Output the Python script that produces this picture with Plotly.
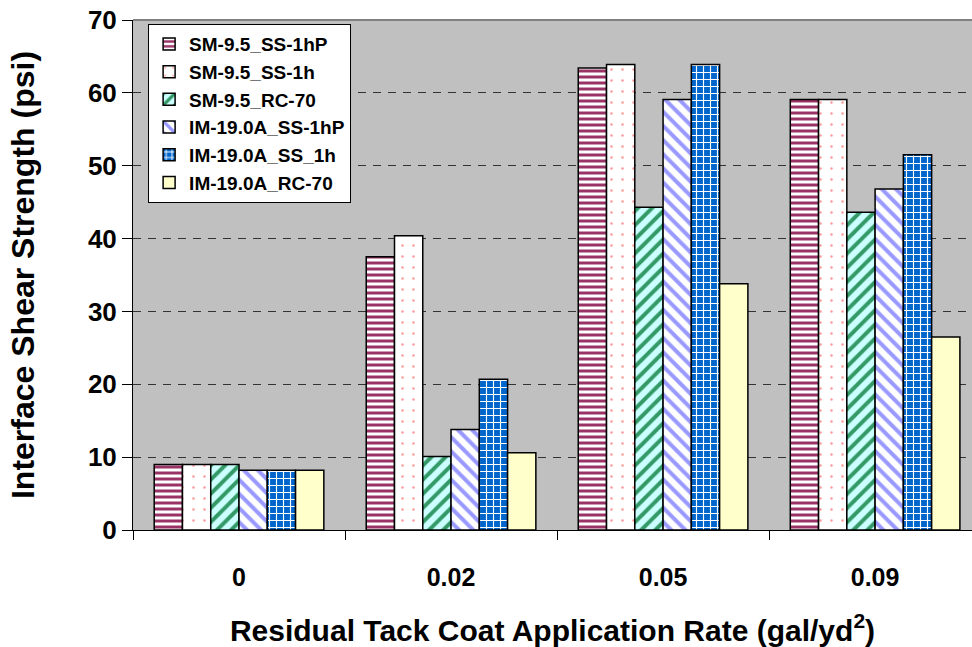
import plotly.graph_objects as go

categories = ["0", "0.02", "0.05", "0.09"]
series_names = ["SM-9.5_SS-1hP", "SM-9.5_SS-1h", "SM-9.5_RC-70",
                "IM-19.0A_SS-1hP", "IM-19.0A_SS_1h", "IM-19.0A_RC-70"]
sm_ss1hp = [9.0, 37.5, 63.4, 59.1]
sm_ss1h = [9.0, 40.4, 63.9, 59.1]
sm_rc70 = [9.0, 10.1, 44.3, 43.6]
im_ss1hp = [8.2, 13.8, 59.1, 46.8]
im_ss1h = [8.2, 20.7, 63.9, 51.5]
im_rc70 = [8.2, 10.6, 33.8, 26.5]
y_ticks = [0, 10, 20, 30, 40, 50, 60, 70]

values = [sm_ss1hp, sm_ss1h, sm_rc70, im_ss1hp, im_ss1h, im_rc70]
patterns = [
    dict(shape="-", fgcolor="#993366", bgcolor="#FFFFFF", size=6, solidity=0.5, fillmode="replace"),
    dict(shape=".", fgcolor="#FF9999", bgcolor="#FFFFFF", size=11, solidity=0.04, fillmode="replace"),
    dict(shape="/", fgcolor="#339966", bgcolor="#CCFFFF", size=10, solidity=0.4, fillmode="replace"),
    dict(shape="\\", fgcolor="#9999FF", bgcolor="#FFFFFF", size=10, solidity=0.4, fillmode="replace"),
    dict(shape="+", fgcolor="#FFFFFF", bgcolor="#0066CC", size=7, solidity=0.3, fillmode="replace"),
    dict(shape="", fgcolor="#FFFFCC", bgcolor="#FFFFCC", size=8, solidity=0.3, fillmode="replace"),
]
base_colors = ["#993366", "#FFFFFF", "#CCFFFF", "#FFFFFF", "#0066CC", "#FFFFCC"]

FONT = "Arial, Liberation Sans, sans-serif"

fig = go.Figure()
for name, vals, pat, col in zip(series_names, values, patterns, base_colors):
    fig.add_trace(go.Bar(
        x=categories, y=vals, name=name,
        marker=dict(color=col, pattern=pat, line=dict(color="#000000", width=1.5)),
    ))

fig.update_layout(
    width=972, height=647,
    margin=dict(l=133, r=0, t=20, b=117),
    paper_bgcolor="#FFFFFF",
    plot_bgcolor="#C0C0C0",
    barmode="group",
    bargap=0.2,
    bargroupgap=0,
    font=dict(family=FONT, color="#000000"),
    legend=dict(
        x=0.018, y=0.992, xanchor="left", yanchor="top",
        bgcolor="#FFFFFF", bordercolor="#000000", borderwidth=1,
        font=dict(family=FONT, size=19, color="#000000", weight="bold"),
        tracegroupgap=0, itemwidth=30,
    ),
    xaxis=dict(
        type="category", range=[-0.5, 3.457],
        tickson="boundaries", ticks="outside", ticklen=9, tickcolor="#000000", tickwidth=1,
        showline=True, linecolor="#000000", linewidth=1,
        showgrid=False,
        tickfont=dict(family=FONT, size=25, weight="bold"),
        ticklabelstandoff=25,
        title=dict(text="Residual Tack Coat Application Rate (gal/yd<sup>2</sup>)",
                   font=dict(family=FONT, size=30, weight="bold"), standoff=31),
        automargin=False,
    ),
    yaxis=dict(
        range=[0, 70], tickvals=y_ticks,
        ticks="outside", ticklen=10, tickcolor="#000000", tickwidth=1,
        showline=True, linecolor="#000000", linewidth=1,
        showgrid=True, gridcolor="#333333", gridwidth=1, griddash="8px,7px",
        zeroline=False,
        tickfont=dict(family=FONT, size=26, weight="bold"),
        ticklabeloverflow="allow",
        title=dict(text="Interface Shear Strength (psi)",
                   font=dict(family=FONT, size=32, weight="bold"), standoff=43),
        automargin=False,
    ),
    shapes=[dict(type="line", xref="paper", yref="paper", x0=0, x1=1, y0=1, y1=1,
                 line=dict(color="#808080", width=2))],
)

fig.write_html("out.html", config={"displayModeBar": False},
               post_script="document.body.style.margin='0';")
